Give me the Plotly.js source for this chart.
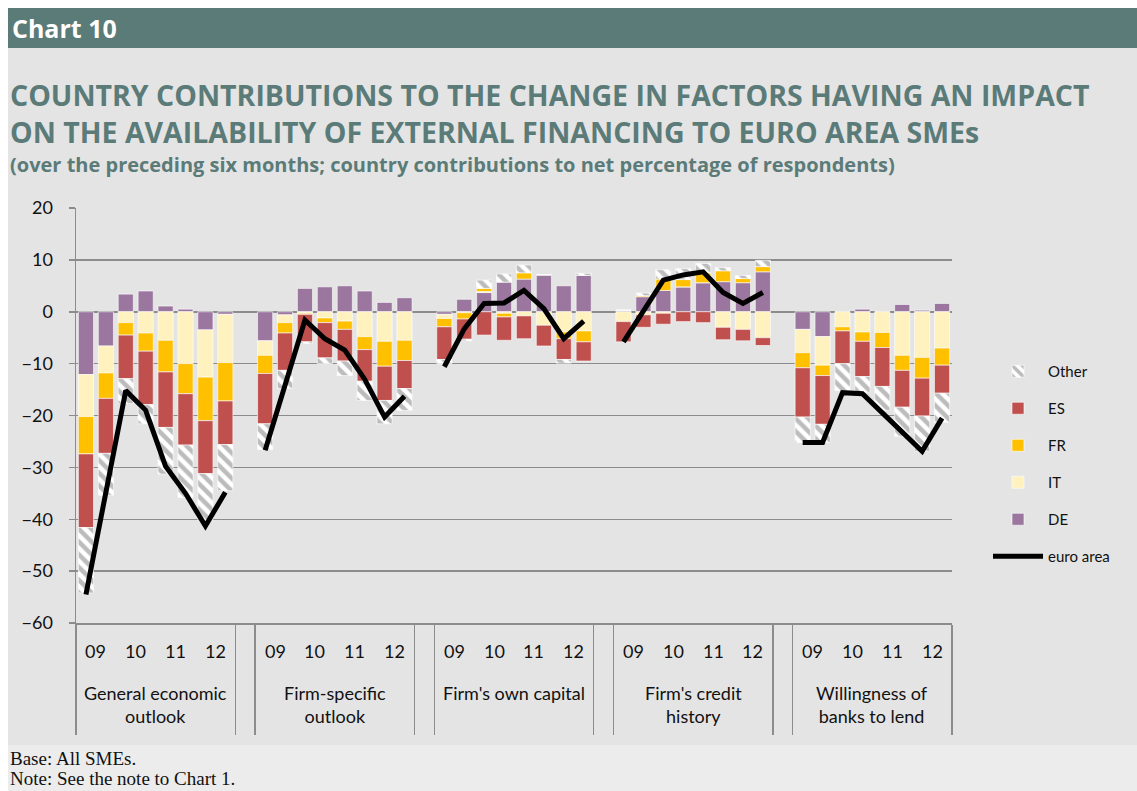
<!DOCTYPE html>
<html>
<head>
<meta charset="utf-8">
<script src="https://cdn.plot.ly/plotly-3.0.1.min.js"></script>
<style>html,body{margin:0;padding:0;background:#fff;}#chart{width:1137px;height:791px;}</style>
</head>
<body>
<div id="chart"></div>
<script>
// ---------- data ----------
const groupNames = ["General economic<br>outlook", "Firm-specific<br>outlook", "Firm's own capital", "Firm's credit<br>history", "Willingness of<br>banks to lend"];
const yearLabels = ["09", "10", "11", "12"];
const seriesNames = ["DE", "IT", "FR", "ES", "Other"];

const DE = [
  [-12.1, -6.6, 3.4, 4.0, 1.1, 0.5, -3.5, -0.5],
  [-5.6, -0.6, 4.5, 4.8, 5.0, 4.0, 1.8, 2.7],
  [-0.5, 2.4, 3.7, 5.7, 6.3, 7.1, 5.0, 7.0],
  [0.3, 2.9, 4.1, 4.8, 5.6, 5.8, 5.6, 7.7],
  [-3.4, -4.8, 0, 0.5, 0, 1.4, 0.3, 1.6]
];
const IT = [
  [-8.1, -5.2, -2.1, -4.1, -5.5, -10.0, -9.1, -9.3],
  [-2.8, -1.5, -0.3, -1.2, -1.8, -4.8, -5.7, -5.5],
  [-0.8, -0.2, 0.2, -0.3, -0.8, -2.6, -3.9, -3.7],
  [-1.9, -0.6, -0.3, 0, 0, -3.0, -3.4, -5.0],
  [-4.5, -5.5, -2.9, -3.9, -4.0, -8.4, -8.8, -7.0]
];
const FR = [
  [-7.2, -4.9, -2.4, -3.5, -6.1, -5.8, -8.4, -7.4],
  [-3.5, -2.0, -0.2, -0.9, -1.6, -2.5, -4.8, -3.9],
  [-1.6, -1.2, 0.6, -0.7, 1.2, 0, -1.3, -2.1],
  [0, 0.2, 2.2, 1.4, 1.9, 2.1, 0.8, 1.0],
  [-2.9, -2.0, -0.8, -1.8, -2.9, -2.9, -4.0, -3.3]
];
const ES = [
  [-14.2, -10.6, -8.4, -10.3, -10.7, -9.9, -10.2, -8.4],
  [-9.7, -7.2, -5.3, -6.8, -6.1, -6.1, -6.6, -5.4],
  [-6.3, -3.9, -4.5, -4.5, -4.4, -4.0, -4.0, -3.7],
  [-3.9, -2.4, -2.1, -1.9, -2.1, -2.4, -2.2, -1.5],
  [-9.5, -9.4, -6.3, -6.8, -7.5, -7.1, -7.3, -5.4]
];
const OTHER = [
  [-12.6, -8.1, -4.8, -3.7, -9.0, -10.1, -9.1, -8.9],
  [-5.0, -3.5, -0.3, -1.1, -2.8, -3.7, -4.5, -4.2],
  [-0.8, -0.3, 1.6, 1.6, 1.5, 0, -0.7, 0.4],
  [0, 0.5, 1.8, 2.1, 1.8, 0.6, 0.6, 1.2],
  [-4.9, -3.5, -5.2, -3.0, -4.6, -5.6, -6.8, -5.6]
];
const EURO_AREA = [
  [-54.5, -35.0, -15.2, -19.0, -29.8, -35.0, -41.3, -34.8],
  [-26.7, -14.2, -1.6, -5.2, -7.4, -13.0, -20.3, -16.3],
  [-10.6, -3.3, 1.6, 1.7, 4.1, 0.6, -5.2, -1.8],
  [-5.8, 0.2, 6.1, 7.1, 7.7, 3.7, 1.6, 3.7],
  [-25.2, -25.2, -15.6, -15.8, -19.5, -23.2, -26.9, -20.5]
];

// ---------- layout constants ----------
const W = 1137, H = 791;
const M = {l: 76, r: 185, t: 208, b: 168};
const PW = W - M.l - M.r, PH = H - M.t - M.b;
const PER_GROUP = 8, STEP = PER_GROUP + 1;
const NCAT = groupNames.length * STEP - 1;
const px = x => (x - M.l) / PW;
const py = y => (H - M.b - y) / PH;

// category positions
const xs = [];
groupNames.forEach((g, gi) => { for (let i = 0; i < PER_GROUP; i++) xs.push(gi * STEP + i); });
const flat = arr => arr.reduce((a, b) => a.concat(b), []);

const colors = {DE: "#9b77a0", IT: "#fff2be", FR: "#ffc000", ES: "#c0504d"};
const dataMap = {DE, IT, FR, ES, Other: OTHER};
const rank = {Other: 1, ES: 2, FR: 3, IT: 4, DE: 5};

const traces = seriesNames.map(name => {
  const t = {
    type: "bar", name: name, x: xs, y: flat(dataMap[name]),
    width: 0.76, legendgroup: name, legendrank: rank[name],
    marker: {color: colors[name] || "white", line: {color: "white", width: 0.6}},
    hoverinfo: "name+y"
  };
  if (name === "Other") {
    t.marker.pattern = {shape: "\\", fgcolor: "#7a7a7a", bgcolor: "white", fillmode: "overlay", size: 9, solidity: 0.5};
  }
  return t;
});

// euro area line with gaps between groups
const lx = [], ly = [];
EURO_AREA.forEach((vals, gi) => {
  vals.forEach((v, i) => { lx.push(gi * STEP + i); ly.push(v); });
  if (gi < EURO_AREA.length - 1) { lx.push(gi * STEP + PER_GROUP); ly.push(null); }
});
traces.push({
  type: "scatter", mode: "lines", name: "euro area", x: lx, y: ly,
  connectgaps: false, legendgroup: "ea", legendrank: 6,
  line: {color: "black", width: 5}
});

// boundaries for the multi-level axis separators
const bounds = [];
groupNames.forEach((g, gi) => { bounds.push(gi * STEP - 0.5); bounds.push(gi * STEP + PER_GROUP - 0.5); });

const annotations = [];
const lblFont = {family: "Lato, 'Open Sans', sans-serif", size: 18, color: "#111"};
groupNames.forEach((g, gi) => {
  yearLabels.forEach((yl, yi) => {
    annotations.push({xref: "x", yref: "paper", x: gi * STEP + yi * 2 + 0.5, y: py(651),
      text: yl, showarrow: false, font: lblFont, xanchor: "center", yanchor: "middle"});
  });
  annotations.push({xref: "x", yref: "paper", x: gi * STEP + (PER_GROUP - 1) / 2, y: py(680),
    text: g, showarrow: false, font: lblFont, xanchor: "center", yanchor: "top"});
});
const teal = "#5b7b78";
const ttlFam = "'Open Sans', Lato, sans-serif";
const serif = "'Liberation Serif', 'DejaVu Serif', serif";
annotations.push(
  {xref: "paper", yref: "paper", x: px(10), y: py(28), xanchor: "left", yanchor: "middle", showarrow: false,
   text: "<b>Chart 10</b>", font: {family: ttlFam, size: 25, color: "white"}},
  {xref: "paper", yref: "paper", x: px(8), y: py(113.5), xanchor: "left", yanchor: "middle", align: "left", showarrow: false,
   text: "<b>COUNTRY CONTRIBUTIONS TO THE CHANGE IN FACTORS HAVING AN IMPACT<br>ON THE AVAILABILITY OF EXTERNAL FINANCING TO EURO AREA SMEs</b>",
   font: {family: ttlFam, size: 28.5, color: teal}},
  {xref: "paper", yref: "paper", x: px(8), y: py(164), xanchor: "left", yanchor: "middle", showarrow: false,
   text: "<b>(over the preceding six months; country contributions to net percentage of respondents)</b>", font: {family: ttlFam, size: 20, color: teal}},
  {xref: "paper", yref: "paper", x: px(8), y: py(758), xanchor: "left", yanchor: "middle", showarrow: false,
   text: "Base: All SMEs.", font: {family: serif, size: 19, color: "#111"}},
  {xref: "paper", yref: "paper", x: px(8), y: py(778), xanchor: "left", yanchor: "middle", showarrow: false,
   text: "Note: See the note to Chart 1.", font: {family: serif, size: 19, color: "#111"}}
);

const shapes = [
  {type: "rect", xref: "paper", yref: "paper", x0: px(0), x1: px(W), y0: py(0), y1: py(H), fillcolor: "white", line: {width: 0}, layer: "below"},
  {type: "rect", xref: "paper", yref: "paper", x0: px(8), x1: px(W), y0: py(48), y1: py(745), fillcolor: "#e4e4e4", line: {width: 0}, layer: "below"},
  {type: "rect", xref: "paper", yref: "paper", x0: px(8), x1: px(W), y0: py(745), y1: py(H), fillcolor: "#ececec", line: {width: 0}, layer: "below"},
  {type: "rect", xref: "paper", yref: "paper", x0: px(8), x1: px(W), y0: py(8), y1: py(48), fillcolor: "#5b7b78", line: {width: 0}, layer: "below"}
];

const layout = {
  width: W, height: H,
  margin: {l: M.l, r: M.r, t: M.t, b: M.b, pad: 0},
  paper_bgcolor: "white", plot_bgcolor: "white",
  barmode: "relative", bargap: 0,
  showlegend: true,
  legend: {x: px(988), y: py(355), xanchor: "left", yanchor: "top", bgcolor: "rgba(0,0,0,0)",
           font: {family: "Lato, 'Open Sans', sans-serif", size: 15, color: "#111"},
           tracegroupgap: 14.5, itemwidth: 50, traceorder: "grouped"},
  xaxis: {range: [-0.5, NCAT - 0.5], tickvals: bounds, ticktext: bounds.map(() => ""),
          ticks: "outside", ticklen: 110, tickwidth: 1.5, tickcolor: "#8c8c8c",
          showgrid: false, zeroline: false, showline: true, linecolor: "#8c8c8c", linewidth: 1.5, fixedrange: true},
  yaxis: {range: [-60, 20], dtick: 10, tick0: 0, ticks: "outside", ticklen: 6, tickwidth: 1.5, tickcolor: "#8c8c8c",
          showgrid: true, gridcolor: "#8c8c8c", gridwidth: 1.5, zeroline: false,
          showline: true, linecolor: "#8c8c8c", linewidth: 1.5, ticklabelstandoff: 12,
          tickfont: {family: "Lato, 'Open Sans', sans-serif", size: 18, color: "#111"}, fixedrange: true},
  annotations: annotations, shapes: shapes,
  font: {family: "Lato, sans-serif"}
};

Plotly.newPlot("chart", traces, layout, {displayModeBar: false, staticPlot: true});
</script>
</body>
</html>
